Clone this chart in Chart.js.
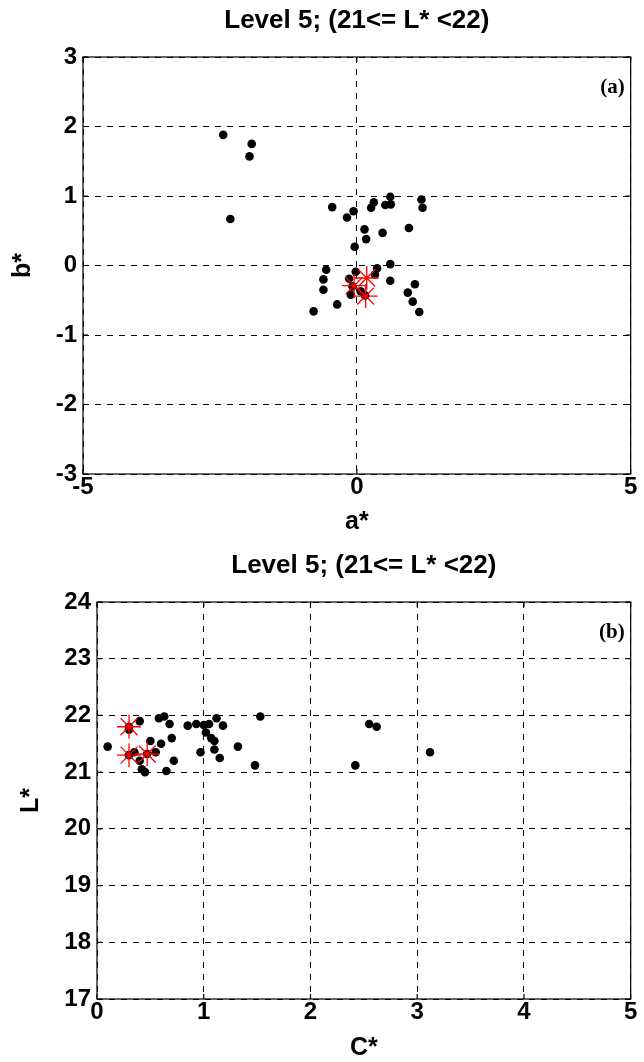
<!DOCTYPE html>
<html><head><meta charset="utf-8">
<script src="https://cdn.jsdelivr.net/npm/chart.js@4/dist/chart.umd.min.js"></script>
<style>
body{margin:0;background:#fff;width:644px;height:1062px;overflow:hidden;position:relative}
.box{position:absolute;left:0;width:644px}
</style></head><body>
<div class="box" style="top:0;height:536px"><canvas id="c1"></canvas></div>
<div class="box" style="top:530px;height:532px"><canvas id="c2"></canvas></div>
<script>
const chartTitle = "Level 5; (21<= L* <22)";

// Panel (a): a*, b* of samples
const aValues = [-2.44,-1.92,-1.96,-2.31,
  -0.45,-0.06,-0.18,0.26,0.31,0.52,0.61,0.62,1.18,1.20,0.14,0.47,0.95,0.17,-0.04,
  -0.56,-0.61,-0.61,-0.79,-0.36,-0.02,-0.14,-0.11,0.37,0.33,0.61,0.61,1.06,0.93,1.02,1.14,0.07,-0.08,0.15];
const bValues = [1.88,1.75,1.57,0.67,
  0.84,0.78,0.69,0.83,0.91,0.87,0.99,0.88,0.95,0.83,0.52,0.47,0.54,0.38,0.27,
  -0.06,-0.20,-0.35,-0.66,-0.56,-0.09,-0.19,-0.42,-0.04,-0.13,0.02,-0.22,-0.27,-0.39,-0.52,-0.67,-0.37,-0.30,-0.43];
// Panel (a): highlighted samples
const aStars = [0.18,-0.05,0.16];
const bStars = [-0.18,-0.29,-0.44];

// Panel (b): C*, L* of samples
const cValues = [0.10,0.30,0.35,0.40,0.40,0.42,0.45,0.50,0.55,0.58,0.60,0.63,0.65,0.68,0.70,0.72,
  0.85,0.93,0.97,1.00,1.02,1.05,1.07,1.10,1.10,1.12,1.15,1.18,1.32,1.48,1.53,2.42,2.55,2.62,3.12,0.30,0.30,0.47];
const lValues = [21.45,21.75,21.35,21.90,21.20,21.05,21.00,21.55,21.35,21.95,21.50,21.98,21.02,21.85,21.60,21.20,
  21.82,21.85,21.35,21.83,21.70,21.85,21.60,21.40,21.55,21.95,21.25,21.82,21.45,21.12,21.98,21.12,21.85,21.80,21.35,21.80,21.30,21.32];
const cStars = [0.30,0.30,0.47];
const lStars = [21.80,21.30,21.32];

const aTicks = [-5,0,5];
const bTicks = [-3,-2,-1,0,1,2,3];
const cTicks = [0,1,2,3,4,5];
const lTicks = [17,18,19,20,21,22,23,24];

const FONT = "'Liberation Sans', Arial, sans-serif";

const boxPlugin = {
  id:'boxPlugin',
  afterDraw(chart, args, opts){
    const {ctx, chartArea:ca, scales} = chart;
    ctx.save();
    ctx.strokeStyle='#000'; ctx.lineWidth=1.2; ctx.setLineDash([]);
    ctx.strokeRect(ca.left, ca.top, ca.right-ca.left, ca.bottom-ca.top);
    const t=5;
    ctx.beginPath();
    scales.x.ticks.forEach(tk=>{const x=scales.x.getPixelForValue(tk.value);
      ctx.moveTo(x,ca.bottom);ctx.lineTo(x,ca.bottom-t);ctx.moveTo(x,ca.top);ctx.lineTo(x,ca.top+t);});
    scales.y.ticks.forEach(tk=>{const y=scales.y.getPixelForValue(tk.value);
      ctx.moveTo(ca.left,y);ctx.lineTo(ca.left+t,y);ctx.moveTo(ca.right,y);ctx.lineTo(ca.right-t,y);});
    ctx.stroke();
    ctx.font = "bold 21px 'Liberation Serif', 'Times New Roman', serif";
    ctx.fillStyle='#000'; ctx.textAlign='right'; ctx.textBaseline='alphabetic';
    ctx.fillText(opts.label, ca.right-6, ca.top+36);
    ctx.restore();
  }
};

function makeChart(id, xs, ys, sx, sy, xt, yt, xmin, xmax, ymin, ymax, xTicks, yTicks, lay, label){
  return new Chart(document.getElementById(id), {
    type:'scatter',
    data:{datasets:[
      {data: sx.map((v,i)=>({x:v,y:sy[i]})), pointStyle:'star', radius:12, borderColor:'#ff0000', borderWidth:1.3, backgroundColor:'#ff0000', order:0},
      {data: xs.map((v,i)=>({x:v,y:ys[i]})), pointStyle:'circle', radius:4.3, backgroundColor:'#000', borderWidth:0, order:1}
    ]},
    options:{
      responsive:true, maintainAspectRatio:false, animation:false, events:[],
      layout:{padding:{left:0,right:lay.right,top:0,bottom:0}},
      plugins:{legend:{display:false}, tooltip:{enabled:false},
        title:{display:true, fullSize:false, text:chartTitle, color:'#000', font:{family:FONT, size:26, weight:'bold', lineHeight:1.2}, padding:{top:lay.tt, bottom:lay.tb}},
        boxPlugin:{label}},
      scales:{
        x:{type:'linear', min:xmin, max:xmax,
          afterBuildTicks:s=>{s.ticks=xTicks.map(v=>({value:v}));},
          afterFit:s=>{s.height=lay.xh;},
          ticks:{color:'#000', font:{family:FONT,size:24,weight:'bold',lineHeight:1.1}, padding:0},
          grid:{color:'#000', lineWidth:1, drawTicks:false},
          border:{display:false, dash:[6,6]},
          title:{display:true, text:xt, color:'#000', font:{family:FONT,size:25,weight:'bold',lineHeight:1.1}, padding:{top:0,bottom:0}}},
        y:{type:'linear', min:ymin, max:ymax,
          afterBuildTicks:s=>{s.ticks=yTicks.map(v=>({value:v}));},
          afterFit:s=>{s.width=lay.yw;},
          ticks:{color:'#000', font:{family:FONT,size:24,weight:'bold'}, padding:6},
          grid:{color:'#000', lineWidth:1, drawTicks:false},
          border:{display:false, dash:[6,6]},
          title:{display:true, text:yt, color:'#000', font:{family:FONT,size:25,weight:'bold'}, padding:{top:lay.yp,bottom:0}}}
      }
    },
    plugins:[boxPlugin]
  });
}

makeChart('c1', aValues, bValues, aStars, bStars, 'a*', 'b*', -5, 5, -3, 3, aTicks, bTicks,
  {right:8, tt:5, tb:20.8, xh:62, yw:83, yp:8}, '(a)');
makeChart('c2', cValues, lValues, cStars, lStars, 'C*', 'L*', 0, 5, 17, 24, cTicks, lTicks,
  {right:11, tt:20, tb:20.8, xh:63, yw:97, yp:16}, '(b)');
</script>
</body></html>
